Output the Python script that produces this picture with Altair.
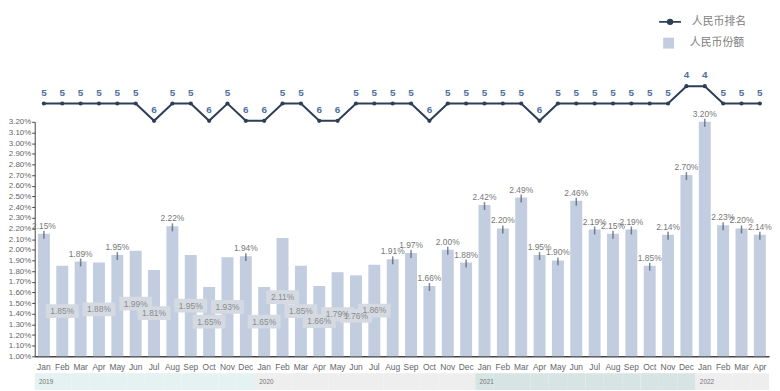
import altair as alt
import pandas as pd

month_names = ["Jan", "Feb", "Mar", "Apr", "May", "Jun", "Jul", "Aug", "Sep", "Oct", "Nov", "Dec"]
year_list = ["2019", "2020", "2021", "2022"]
years = ["2019"] * 12 + ["2020"] * 12 + ["2021"] * 12 + ["2022"] * 4
months = month_names * 3 + month_names[:4]

# RMB share of global payments (%)
share = [2.15, 1.85, 1.89, 1.88, 1.95, 1.99, 1.81, 2.22, 1.95, 1.65, 1.93, 1.94,
         1.65, 2.11, 1.85, 1.66, 1.79, 1.76, 1.86, 1.91, 1.97, 1.66, 2.00, 1.88,
         2.42, 2.20, 2.49, 1.95, 1.90, 2.46, 2.19, 2.15, 2.19, 1.85, 2.14, 2.70,
         3.20, 2.23, 2.20, 2.14]
# RMB rank
rank = [5, 5, 5, 5, 5, 5, 6, 5, 5, 6, 5, 6,
        6, 5, 5, 6, 6, 5, 5, 5, 5, 6, 5, 5,
        5, 5, 5, 6, 5, 5, 5, 5, 5, 5, 5, 4,
        4, 5, 5, 5]
inside_label_months = ["Feb 2019", "Apr 2019", "Jun 2019", "Jul 2019", "Sep 2019", "Oct 2019",
                       "Nov 2019", "Jan 2020", "Feb 2020", "Mar 2020", "Apr 2020", "May 2020",
                       "Jun 2020", "Jul 2020"]
y_ticks = [1.00, 1.10, 1.20, 1.30, 1.40, 1.50, 1.60, 1.70, 1.80, 1.90, 2.00, 2.10,
           2.20, 2.30, 2.40, 2.50, 2.60, 2.70, 2.80, 2.90, 3.00, 3.10, 3.20]
rank_name = "人民币排名"
share_name = "人民币份额"

keys = [f"{m} {y}" for m, y in zip(months, years)]
df = pd.DataFrame({
    "key": keys, "month": months, "year": years, "share": share, "rank": rank,
    "rank_name": rank_name, "share_name": share_name,
    "inside": [k in inside_label_months for k in keys],
})

NAVY = "#2d3e57"
BAR = "#c2cde0"
W = 742
base_font = "Liberation Sans"

# ---------- top panel: rank line ----------
x_top = alt.X("key:O", sort=keys, axis=None, scale=alt.Scale(type="point", padding=0.5))
y_top = alt.Y("rank:Q", axis=None,
              scale=alt.Scale(domain=[-0.4, 5.086], reverse=True, nice=False, zero=False))
line_symbol = "M-1,0H1M-0.22,0A0.22,0.22,0,1,0,0.22,0A0.22,0.22,0,1,0,-0.22,0"
top_base = alt.Chart(df).encode(x=x_top, y=y_top)
line = top_base.mark_line(strokeWidth=2).encode(
    color=alt.Color("rank_name:N", scale=alt.Scale(domain=[rank_name], range=[NAVY]),
                    legend=alt.Legend(title=None, orient="none", legendX=630, legendY=0,
                                      symbolType=line_symbol, symbolSize=484,
                                      symbolStrokeWidth=1.6, symbolFillColor=NAVY,
                                      symbolStrokeColor=NAVY,
                                      labelFont="Noto Sans CJK SC", labelFontSize=11,
                                      labelColor="#808080", labelOffset=10))
)
pts = top_base.mark_point(filled=True, size=18, color=NAVY, opacity=1)
rank_txt = top_base.mark_text(dy=-11, fontSize=10, color="#4f6f9c", font=base_font,
                              fontWeight="bold").encode(text="rank:Q")
top = alt.layer(line, pts, rank_txt).properties(width=W, height=96)

# ---------- middle panel: share bars ----------
x_mid = alt.X("key:O", sort=keys, title=None,
              scale=alt.Scale(paddingInner=0.35, paddingOuter=0.175),
              axis=alt.Axis(labelExpr="split(datum.value, ' ')[0]", labelAngle=0, ticks=False,
                            domainColor="#444", domainWidth=1.5, labelColor="#666",
                            labelFontSize=8.5, labelPadding=6, labelFont=base_font))
y_scale = alt.Scale(domain=[1.0, 3.2], nice=False, zero=False)
y_axis = alt.Axis(values=y_ticks, labelExpr="format(datum.value, '.2f') + '%'",
                  grid=False, domainColor="#444", tickColor="#444", tickSize=3,
                  labelFontSize=8, labelColor="#666", labelPadding=1,
                  labelOverlap=False, labelFont=base_font, title=None)
mid_base = alt.Chart(df).encode(x=x_mid)
bars = mid_base.mark_bar().encode(
    y=alt.Y("share:Q", title=None, scale=y_scale, axis=y_axis), y2=alt.datum(1.0),
    color=alt.Color("share_name:N", scale=alt.Scale(domain=[share_name], range=[BAR]),
                    legend=alt.Legend(title=None, orient="none", legendX=635, legendY=-85,
                                      symbolType="square", symbolSize=121,
                                      symbolStrokeWidth=0,
                                      labelFont="Noto Sans CJK SC", labelFontSize=11,
                                      labelColor="#808080", labelOffset=16))
)
ticks = mid_base.transform_filter("!datum.inside").mark_tick(
    orient="vertical", size=8, thickness=1.5, color="#4a5566", yOffset=1
).encode(y=alt.Y("share:Q", title=None, scale=y_scale, axis=y_axis))
above_txt = mid_base.transform_filter("!datum.inside").transform_calculate(
    lbl="format(datum.share, '.2f') + '%'"
).mark_text(
    baseline="bottom", dy=-3, fontSize=8.5, color="#777777", font=base_font
).encode(y=alt.Y("share:Q", title=None, scale=y_scale, axis=y_axis), text="lbl:N")
inside = mid_base.transform_filter("datum.inside").transform_calculate(
    mid="(datum.share + 1.0) / 2", lbl="format(datum.share, '.2f') + '%'")
box = inside.mark_point(shape="M-1,-0.42H1V0.42H-1Z", size=1100, filled=True,
                        color="#d5dae2", opacity=1).encode(
    y=alt.Y("mid:Q", title=None, scale=y_scale, axis=y_axis))
in_txt = inside.mark_text(fontSize=8.5, color="#8a8a8a", font=base_font).encode(
    y=alt.Y("mid:Q", title=None, scale=y_scale, axis=y_axis), text="lbl:N")
mid = alt.layer(bars, ticks, above_txt, box, in_txt).properties(width=W, height=237)

# ---------- bottom panel: year band ----------
x_band = alt.X("key:O", sort=keys, axis=None, scale=alt.Scale(paddingInner=0, paddingOuter=0))
band_base = alt.Chart(df).encode(x=x_band)
band = band_base.mark_rect().encode(
    color=alt.Color("year:N", scale=alt.Scale(domain=year_list,
                                              range=["#e4f3f1", "#eeeeee", "#d6e5e3", "#eeeeee"]),
                    legend=None))
year_txt = band_base.transform_filter("datum.month == 'Jan'").mark_text(
    align="left", dx=-5, fontSize=6.5, color="#777", font=base_font).encode(text="year:N")
bottom = alt.layer(band, year_txt).properties(width=W, height=17)

chart = alt.vconcat(top, mid, bottom, spacing=17, bounds="flush").resolve_scale(
    color="independent"
).properties(
    padding={"left": 0, "top": 0, "right": 0, "bottom": 0}, background="white"
).configure_view(stroke=None)

chart.save("out.html", embed_options={"renderer": "svg", "actions": False})
